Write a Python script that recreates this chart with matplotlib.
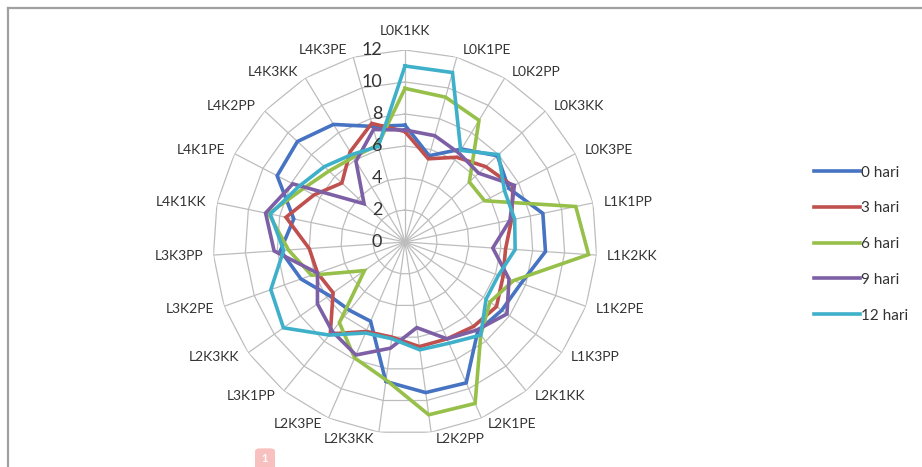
import numpy as np
import matplotlib
matplotlib.use('Agg')
import matplotlib.pyplot as plt
from matplotlib.patches import FancyBboxPatch
from matplotlib.lines import Line2D

plt.rcParams['font.family'] = ['Lato', 'DejaVu Sans']

categories = ['L0K1KK', 'L0K1PE', 'L0K2PP', 'L0K3KK', 'L0K3PE', 'L1K1PP',
              'L1K2KK', 'L1K2PE', 'L1K3PP', 'L2K1KK', 'L2K1PE', 'L2K2PP',
              'L2K3KK', 'L2K3PE', 'L3K1PP', 'L2K3KK', 'L3K2PE', 'L3K3PP',
              'L4K1KK', 'L4K1PE', 'L4K2PP', 'L4K3KK', 'L4K3PE']

hari_0 = [7.3, 5.6, 6.8, 7.9, 7.3, 8.8, 8.8, 7.7, 7.4, 7.2, 9.6, 9.5,
          8.8, 5.4, 5.5, 5.8, 6.9, 7.8, 7.1, 9.0, 9.2, 8.6, 7.5]
hari_3 = [6.9, 5.4, 6.2, 6.9, 7.6, 6.8, 6.3, 6.5, 7.0, 6.8, 6.6, 6.6,
          6.0, 6.1, 7.4, 5.5, 5.8, 6.0, 7.6, 6.4, 5.4, 6.6, 7.7]
hari_6 = [9.6, 9.4, 8.9, 5.5, 5.6, 10.9, 11.5, 7.2, 6.5, 7.5, 11.0, 10.9,
          8.7, 7.9, 6.5, 3.1, 6.2, 7.3, 8.7, 7.2, 6.5, 6.2, 6.3]
hari_9 = [7.0, 6.9, 6.5, 6.3, 7.7, 6.7, 5.5, 6.9, 7.8, 7.1, 6.6, 5.4,
          6.7, 7.7, 7.2, 6.7, 5.8, 8.2, 8.9, 7.9, 3.5, 5.9, 7.3]
hari_12 = [11.0, 11.0, 6.7, 8.0, 7.0, 7.0, 6.9, 6.2, 6.2, 7.5, 6.9, 6.8,
           6.1, 6.2, 7.5, 9.3, 8.9, 7.6, 8.6, 7.5, 6.9, 6.4, 6.2]

series_names = ['0 hari', '3 hari', '6 hari', '9 hari', '12 hari']
series_colors = ['#4673C2', '#C0504D', '#96C04A', '#7D5FA6', '#3FB0CA']
ring_values = [0, 2, 4, 6, 8, 10, 12]
text_col = '#333333'

W, H = 922, 467
fig = plt.figure(figsize=(W / 100, H / 100), dpi=100)

# radar centre and radius in pixels
cx, cy, R = 405, 242, 192
ax = fig.add_axes([(cx - R) / W, (H - cy - R) / H, 2 * R / W, 2 * R / H],
                  projection='polar')
ax.set_theta_zero_location('N')
ax.set_theta_direction(-1)
ax.set_ylim(0, 12)
ax.grid(False)
ax.set_xticks([])
ax.set_yticks([])
ax.spines['polar'].set_visible(False)
ax.patch.set_alpha(0)

n = len(categories)
angles = np.arange(n) * 2 * np.pi / n
closed = np.append(angles, angles[0])

# polygon gridlines and spokes
grid_col = '#bdbdbd'
for r in ring_values[1:]:
    ax.plot(closed, [r] * (n + 1), color=grid_col, lw=0.9, zorder=1)
for a in angles:
    ax.plot([a, a], [0, 12], color=grid_col, lw=0.9, zorder=1)

all_series = [hari_0, hari_3, hari_6, hari_9, hari_12]
for vals, name, col in zip(all_series, series_names, series_colors):
    ax.plot(closed, vals + vals[:1], color=col, lw=2.6, label=name,
            solid_joinstyle='miter', zorder=3)

# radial value labels along the top spoke
for r in ring_values:
    ax.annotate(str(r), xy=(0, r), xytext=(-16.5, 0), textcoords='offset points',
                ha='right', va='center', fontsize=13, color=text_col, zorder=4)

# category labels around the outside
for a, lab in zip(angles, categories):
    s, c = np.sin(a), np.cos(a)
    if abs(s) < 0.05:
        ax.annotate(lab, xy=(a, 12), xytext=(0, 14), textcoords='offset points',
                    ha='center', va='center', fontsize=10, color=text_col)
    else:
        ha = 'left' if s > 0 else 'right'
        dx = (3 + 4.5 * abs(s)) * np.sign(s)
        dy = 5 * c
        ax.annotate(lab, xy=(a, 12), xytext=(dx, dy), textcoords='offset points',
                    ha=ha, va='center', fontsize=10, color=text_col)

handles = [Line2D([], [], color=c, lw=2.6) for c in series_colors]
fig.legend(handles, series_names, loc='upper left',
           bbox_to_anchor=(800 / W, 1 - 152 / H), frameon=False,
           fontsize=11, handlelength=3.0, handletextpad=0.1,
           labelspacing=1.42, labelcolor=text_col)

# chart area border (top and left edges)
fig.add_artist(Line2D([8 / W, 8 / W], [0, 1 - 8 / H], color='#a0a0a0', lw=1.6))
fig.add_artist(Line2D([8 / W, 1], [1 - 8 / H, 1 - 8 / H], color='#a0a0a0', lw=1.6))

# small page-number badge
badge = FancyBboxPatch((255 / W, -0.02), 20 / W, 28 / H,
                       boxstyle='round,pad=0,rounding_size=0.006',
                       transform=fig.transFigure, fc='#f9c0c0', ec='none')
fig.add_artist(badge)
fig.text(265 / W, 1 - 459 / H, '1', ha='center', va='center',
         fontsize=8, color='white', fontweight='bold')

fig.savefig('out.png', dpi=100)
